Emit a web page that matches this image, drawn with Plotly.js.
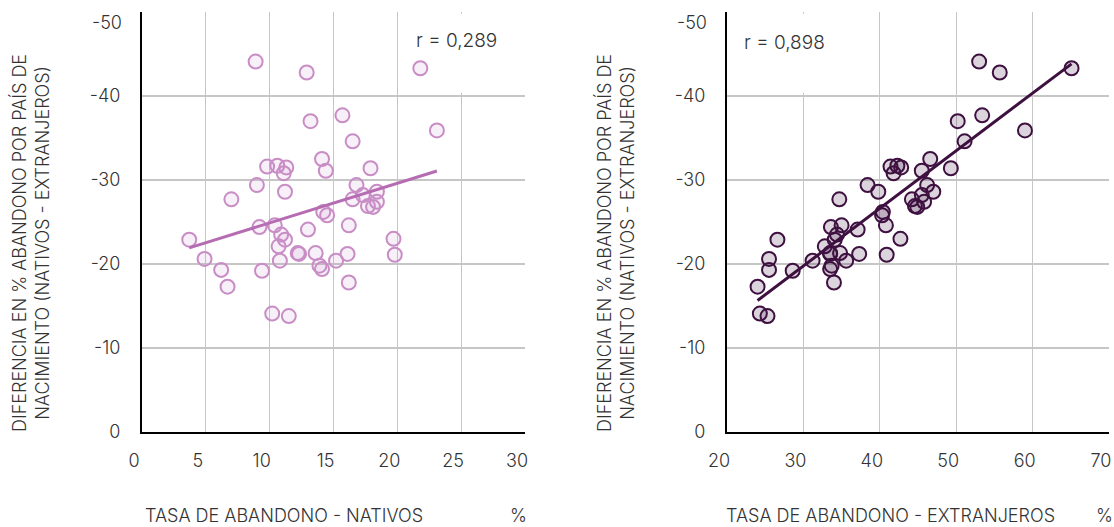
<!DOCTYPE html>
<html>
<head>
<meta charset="utf-8">
<script src="https://cdn.plot.ly/plotly-3.0.1.min.js"></script>
<style>html,body{margin:0;padding:0;background:#fff;}#chart{width:1114px;height:527px;}</style>
</head>
<body>
<div id="chart"></div>
<script>
// Data (one entry per country)
const nativos = [8.9,12.9,21.8,13.2,15.7,23.1,16.5,14.1,14.4,17.9,9.8,10.6,11.3,11.1,9.0,11.2,7.0,16.8,18.4,16.5,17.3,18.4,17.7,18.1,14.2,14.5,9.2,10.4,13.0,16.2,3.7,10.9,11.2,10.7,12.2,12.3,13.6,16.1,19.7,19.8,4.9,10.8,15.2,13.9,14.1,6.2,9.4,6.7,16.2,10.2,11.5];
const extranjeros = [53.0,55.7,65.1,50.2,53.4,59.0,51.1,46.6,45.5,49.3,41.4,42.3,42.8,41.8,38.4,39.8,34.7,46.2,47.0,44.2,45.5,45.8,44.6,44.9,40.4,40.3,33.6,35.0,37.1,40.8,26.6,34.4,34.1,32.8,33.5,33.5,34.8,37.3,42.7,40.9,25.5,31.2,35.6,33.7,33.5,25.5,28.6,24.0,34.0,24.3,25.3];
const diferencia = [-44.1,-42.8,-43.3,-37.0,-37.7,-35.9,-34.6,-32.5,-31.1,-31.4,-31.6,-31.7,-31.5,-30.8,-29.4,-28.6,-27.7,-29.4,-28.6,-27.7,-28.2,-27.4,-26.9,-26.8,-26.2,-25.8,-24.4,-24.6,-24.1,-24.6,-22.9,-23.5,-22.9,-22.1,-21.3,-21.2,-21.3,-21.2,-23.0,-21.1,-20.6,-20.4,-20.4,-19.8,-19.4,-19.3,-19.2,-17.3,-17.8,-14.1,-13.8];
const yTickVals = [0,-10,-20,-30,-40,-50];
const yTickText = ["0","-10","-20","-30","-40",""];   // top label drawn slightly lower, as in the reference
const yTopLabel = "-50";
const xTickValsL = [0,5,10,15,20,25,30];
const xTickValsR = [20,30,40,50,60,70];
const rNativos = "r = 0,289";
const rExtranjeros = "r = 0,898";
const xTitleLeft = "TASA DE ABANDONO - NATIVOS";
const xTitleRight = "TASA DE ABANDONO - EXTRANJEROS";
const yTitle = "DIFERENCIA EN % ABANDONO POR PAÍS DE<br>NACIMIENTO (NATIVOS - EXTRANJEROS)";

// least-squares trend line (like the spreadsheet's linear trendline)
function trend(xs, ys) {
  const n = xs.length;
  const mx = xs.reduce((a,b)=>a+b,0)/n, my = ys.reduce((a,b)=>a+b,0)/n;
  let sxy=0, sxx=0;
  for (let i=0;i<n;i++){ sxy+=(xs[i]-mx)*(ys[i]-my); sxx+=(xs[i]-mx)**2; }
  const b = sxy/sxx, a = my-b*mx;
  const x0 = Math.min(...xs), x1 = Math.max(...xs);
  return {x:[x0,x1], y:[a+b*x0, a+b*x1]};
}
const tL = trend(nativos, diferencia);
const tR = trend(extranjeros, diferencia);

const FONT = "Inter, 'Noto Sans', sans-serif";
const lightC = '#c98dc6', lineL = '#b66cb2', darkC = '#3e1040';

const traces = [
  {x: nativos, y: diferencia, type:'scatter', mode:'markers', xaxis:'x', yaxis:'y',
   marker:{size:14, color:'rgba(201,141,198,0.13)', line:{color:lightC, width:2}}, hoverinfo:'x+y'},
  {x: tL.x, y: tL.y, type:'scatter', mode:'lines', xaxis:'x', yaxis:'y',
   line:{color:lineL, width:3}},
  {x: extranjeros, y: diferencia, type:'scatter', mode:'markers', xaxis:'x2', yaxis:'y2',
   marker:{size:14, color:'rgba(62,16,64,0.18)', line:{color:darkC, width:2}}, hoverinfo:'x+y'},
  {x: tR.x, y: tR.y, type:'scatter', mode:'lines', xaxis:'x2', yaxis:'y2',
   line:{color:darkC, width:3}}
];

const W = 1114, H = 527;
const TXT = '#333';
const tickFont = {family:FONT, size:18, color:TXT, weight:300};
const xax = (dom, rng, vals) => ({domain:dom, range:rng, tickmode:'array', tickvals:vals, ticktext:vals.map(String),
  showgrid:true, gridcolor:'#c6c6c6', gridwidth:1.3, ticklabeloverflow:'allow', ticklabelshift:-8,
  zeroline:false, showline:true, linecolor:'#000', linewidth:2, ticks:'outside', ticklen:11, tickcolor:'rgba(0,0,0,0)',
  tickfont:tickFont, fixedrange:true});
const yax = (anchor) => ({domain:[(H-432)/H, (H-12)/H], range:[0,-50], tickmode:'array', tickvals:yTickVals, ticktext:yTickText,
  anchor:anchor, showgrid:true, gridcolor:'#c6c6c6', gridwidth:1.3,
  zeroline:false, showline:true, linecolor:'#000', linewidth:2, ticks:'outside', ticklen:16, tickcolor:'rgba(0,0,0,0)',
  tickfont:tickFont, fixedrange:true});

const annFont = (s) => ({family:FONT, size:s, color:TXT, weight:300});
const yT = 1-515/H;
const layout = {
  width:W, height:H, margin:{l:0,r:0,t:0,b:0}, showlegend:false,
  paper_bgcolor:'#fff', plot_bgcolor:'#fff', font:{family:FONT, color:TXT},
  xaxis: Object.assign(xax([142/W, 525/W],[0,30],xTickValsL), {anchor:'y'}),
  yaxis: yax('x'),
  xaxis2: Object.assign(xax([727/W, 1109/W],[20,70],xTickValsR), {anchor:'y2'}),
  yaxis2: yax('x2'),
  shapes: [
    {type:'rect', xref:'x', yref:'y', x0:20.6, x1:29.8, y0:-40.4, y1:-49.8, fillcolor:'#fff', line:{width:0}, layer:'between'},
    {type:'rect', xref:'x2', yref:'y2', x0:20.6, x1:38.5, y0:-40.4, y1:-49.8, fillcolor:'#fff', line:{width:0}, layer:'between'}
  ],
  annotations: [
    {text:rNativos, xref:'paper', yref:'paper', x:456/W, y:1-40/H, xanchor:'center', yanchor:'middle', showarrow:false, font:annFont(19)},
    {text:rExtranjeros, xref:'paper', yref:'paper', x:742/W, y:1-43/H, xanchor:'left', yanchor:'middle', showarrow:false, font:annFont(19)},
    {text:yTopLabel, xref:'paper', yref:'paper', x:123/W, y:1-22/H, xanchor:'right', yanchor:'middle', showarrow:false, borderpad:0, font:annFont(18)},
    {text:yTopLabel, xref:'paper', yref:'paper', x:708/W, y:1-22/H, xanchor:'right', yanchor:'middle', showarrow:false, borderpad:0, font:annFont(18)},
    {text:yTitle, xref:'paper', yref:'paper', x:30/W, y:1-243/H, xanchor:'center', yanchor:'middle', textangle:-90, showarrow:false, align:'center', font:annFont(18)},
    {text:yTitle, xref:'paper', yref:'paper', x:615/W, y:1-243/H, xanchor:'center', yanchor:'middle', textangle:-90, showarrow:false, align:'center', font:annFont(18)},
    {text:xTitleLeft, xref:'paper', yref:'paper', x:284/W, y:yT, xanchor:'center', yanchor:'middle', showarrow:false, borderpad:0, font:annFont(18)},
    {text:'%', xref:'paper', yref:'paper', x:518/W, y:yT, xanchor:'center', yanchor:'middle', showarrow:false, borderpad:0, font:annFont(18)},
    {text:xTitleRight, xref:'paper', yref:'paper', x:890/W, y:yT, xanchor:'center', yanchor:'middle', showarrow:false, borderpad:0, font:annFont(18)},
    {text:'%', xref:'paper', yref:'paper', x:1104/W, y:yT, xanchor:'center', yanchor:'middle', showarrow:false, borderpad:0, font:annFont(18)}
  ]
};

Plotly.newPlot('chart', traces, layout, {displayModeBar:false, staticPlot:true});
</script>
</body>
</html>
